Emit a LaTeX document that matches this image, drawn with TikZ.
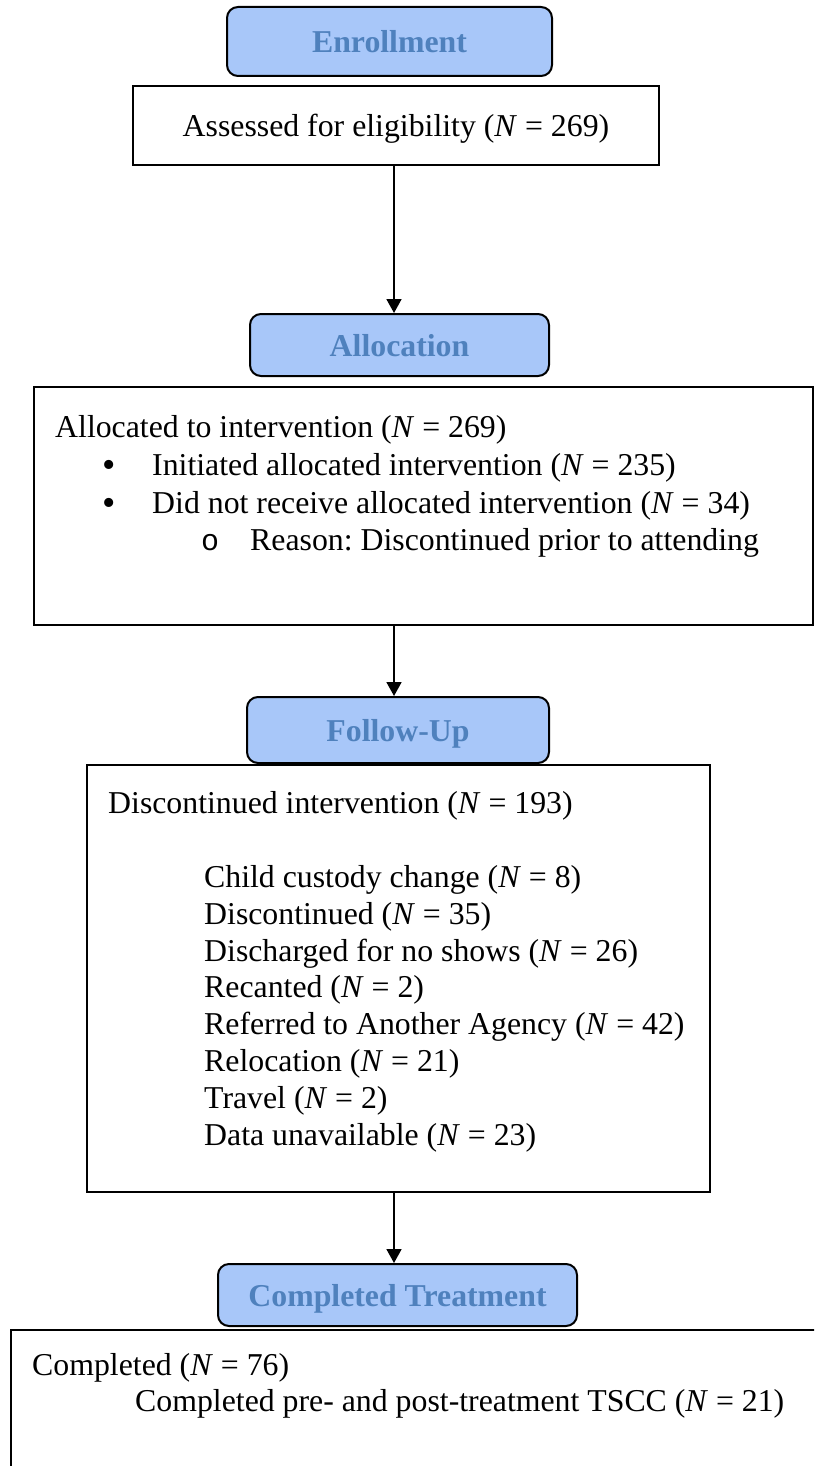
\documentclass[tikz,border=0pt]{standalone}
\usepackage{fontspec}
\setmainfont{Liberation Serif}
\newfontfamily\monofam{Liberation Mono}
\usetikzlibrary{arrows.meta}
\definecolor{hdrfill}{HTML}{A8C7F9}
\definecolor{hdrtext}{HTML}{4F81BD}
\frenchspacing
\begin{document}
\begin{tikzpicture}[x=1pt,y=-1pt,
  every node/.style={font=\fontsize{31.8}{37}\selectfont, inner sep=0pt},
  hdr/.style={draw=black, line width=2pt, fill=hdrfill, rounded corners=11pt,
    text=hdrtext, font=\fontsize{31.8}{37}\selectfont\bfseries,
    text height=22pt, text depth=0pt},
  box/.style={draw=black, line width=2pt},
  txt/.style={anchor=base west},
  bul/.style={anchor=base west, font=\fontsize{38}{40}\selectfont},
  sub/.style={anchor=base west, font=\fontsize{30}{37}\monofam},
  arr/.style={line width=1.8pt, -{Triangle[width=15pt,length=14pt]}}]
\useasboundingbox (0,0) rectangle (814,1466);
\coordinate (col) at (394,0);

% Enrollment
\node[hdr, minimum width=325, minimum height=69] (enr) at (389.5,41.5) {Enrollment};
\node[box, minimum width=526, minimum height=79, text height=22pt, text depth=0pt] (ass) at (396,125.5)
  {Assessed for eligibility (\textit{N} = 269)};

% Allocation
\node[hdr, minimum width=299, minimum height=62] (alh) at (399.5,345) {Allocation};
\node[box, minimum width=779, minimum height=238] (alb) at (423.5,506) {};
\node[txt] (a1) at (55,437) {Allocated to intervention (\textit{N} = 269)};
\node[bul] (b1) at (102,477) {•};
\node[txt] (a2) at (152,475) {Initiated allocated intervention (\textit{N} = 235)};
\node[bul] (b2) at (102,515) {•};
\node[txt] (a3) at (152,513) {Did not receive allocated intervention (\textit{N} = 34)};
\node[sub] (b3) at (201,550) {o};
\node[txt] (a4) at (250,550) {Reason: Discontinued prior to attending};

% Follow-Up
\node[hdr, minimum width=302, minimum height=66] (fuh) at (398,730) {Follow-Up};
\node[box, minimum width=623, minimum height=427] (fub) at (398.5,978.5) {};
\node[txt] (f0) at (108,813) {Discontinued intervention (\textit{N} = 193)};
\node[txt] (f1) at (204,887) {Child custody change (\textit{N} = 8)};
\node[txt] (f2) at (204,924) {Discontinued (\textit{N} = 35)};
\node[txt] (f3) at (204,961) {Discharged for no shows (\textit{N} = 26)};
\node[txt] (f4) at (204,997) {Recanted (\textit{N} = 2)};
\node[txt] (f5) at (204,1034) {Referred to Another Agency (\textit{N} = 42)};
\node[txt] (f6) at (204,1071) {Relocation (\textit{N} = 21)};
\node[txt] (f7) at (204,1108) {Travel (\textit{N} = 2)};
\node[txt] (f8) at (204,1145) {Data unavailable (\textit{N} = 23)};

% Completed Treatment
\node[hdr, minimum width=359, minimum height=62] (cth) at (397.5,1295) {Completed Treatment};
\begin{scope}
  \clip (0,0) rectangle (814,1466);
  \node[box, minimum width=840, minimum height=200] (cpb) at (431,1430) {};
\end{scope}
\node[txt] (c1) at (32,1375) {Completed (\textit{N} = 76)};
\node[txt] (c2) at (135,1411) {Completed pre- and post-treatment TSCC (\textit{N} = 21)};

% connectors
\draw[arr] (ass.south -| col) -- (alh.north -| col);
\draw[arr] (alb.south -| col) -- (fuh.north -| col);
\draw[arr] (fub.south -| col) -- (cth.north -| col);
\end{tikzpicture}
\end{document}
